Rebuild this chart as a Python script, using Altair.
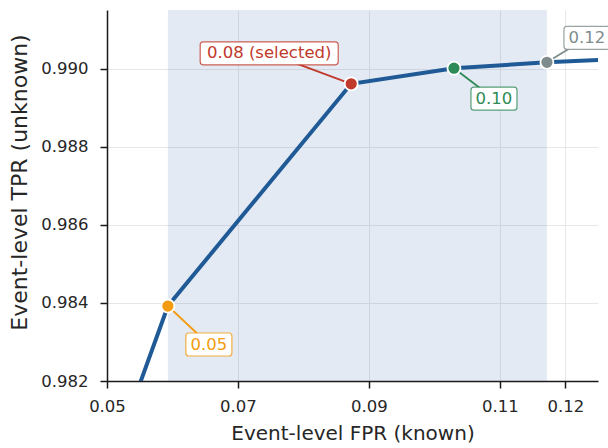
import altair as alt
import pandas as pd

# ---- data ----
thresholds = [0.04, 0.05, 0.08, 0.10, 0.12, 0.14]
fpr_known = [0.0500, 0.0593, 0.0873, 0.1030, 0.1172, 0.1300]
tpr_unknown = [0.97960, 0.98392, 0.98961, 0.99001, 0.99016, 0.99026]

marker_thresholds = [0.05, 0.08, 0.10, 0.12]
marker_labels = ["0.05", "0.08 (selected)", "0.10", "0.12"]
marker_colors = ["#f39c12", "#c0392b", "#2e8b57", "#7f8c8d"]

span_start = [0.0593]
span_end = [0.1172]

x_ticks = [0.05, 0.07, 0.09, 0.11, 0.12]
y_ticks = [0.982, 0.984, 0.986, 0.988, 0.990]

# ---- label placement (pixels, style only) ----
label_dx = [41, -82, 40, 40]
label_dy = [38.5, -30.5, 30.5, -24.5]
label_w = [46, 138, 46, 46]
label_h = 23

FONT = "DejaVu Sans"
LINE_COLOR = "#1f5a96"

curve = pd.DataFrame({"thr": thresholds, "fpr": fpr_known, "tpr": tpr_unknown})
lookup = dict(zip(thresholds, zip(fpr_known, tpr_unknown)))
markers = pd.DataFrame({
    "thr": marker_thresholds,
    "label": marker_labels,
    "color": marker_colors,
    "fpr": [lookup[t][0] for t in marker_thresholds],
    "tpr": [lookup[t][1] for t in marker_thresholds],
})
span = pd.DataFrame({"x1": span_start, "x2": span_end})

xscale = alt.Scale(domain=[0.05, 0.125], nice=False, zero=False)
yscale = alt.Scale(domain=[0.982, 0.9915], nice=False, zero=False)

xaxis = alt.Axis(values=x_ticks, format=".2f", title="Event-level FPR (known)",
                 labelFontSize=16.5, titleFontSize=20, tickSize=7, labelPadding=10,
                 titlePadding=9, grid=True, labelFlush=False)
yaxis = alt.Axis(values=y_ticks, format=".3f", title="Event-level TPR (unknown)",
                 labelFontSize=16.5, titleFontSize=22, tickSize=7, labelPadding=12,
                 titlePadding=9, grid=True, labelFlush=False, titleY=172)

shade = alt.Chart(span).mark_rect(color="#4c72b0", opacity=0.15).encode(
    x=alt.X("x1:Q", scale=xscale, axis=xaxis),
    x2="x2:Q",
)

line = alt.Chart(curve).mark_line(clip=True, strokeWidth=4, color=LINE_COLOR).encode(
    x=alt.X("fpr:Q", scale=xscale, axis=xaxis),
    y=alt.Y("tpr:Q", scale=yscale, axis=yaxis),
)

layers = [shade, line]

# connectors
for i, t in enumerate(marker_thresholds):
    d = markers[markers.thr == t]
    layers.append(
        alt.Chart(d).mark_rule(color=marker_colors[i], strokeWidth=1.8,
                               x2Offset=label_dx[i], y2Offset=label_dy[i]).encode(
            x="fpr:Q", y="tpr:Q", x2="fpr:Q", y2="tpr:Q"
        )
    )

# points
layers.append(
    alt.Chart(markers).mark_point(filled=True, size=170, stroke="white",
                                  strokeWidth=1.8, opacity=1).encode(
        x="fpr:Q", y="tpr:Q",
        fill=alt.Fill("color:N", scale=None),
    )
)

# label boxes + text
for i, t in enumerate(marker_thresholds):
    d = markers[markers.thr == t]
    w = label_w[i]
    layers.append(
        alt.Chart(d).mark_rect(fill="white", stroke=marker_colors[i], strokeOpacity=0.8,
                               strokeWidth=1.2, cornerRadius=3,
                               xOffset=label_dx[i] - w / 2, x2Offset=label_dx[i] + w / 2,
                               yOffset=label_dy[i] - label_h / 2,
                               y2Offset=label_dy[i] + label_h / 2).encode(
            x="fpr:Q", x2="fpr:Q", y="tpr:Q", y2="tpr:Q"
        )
    )
    layers.append(
        alt.Chart(d).mark_text(font=FONT, fontSize=16.5, color=marker_colors[i],
                               dx=label_dx[i], dy=label_dy[i], baseline="middle",
                               align="center").encode(
            x="fpr:Q", y="tpr:Q", text="label:N"
        )
    )

chart = alt.layer(*layers).properties(
    width=491, height=371,
    autosize=alt.AutoSizeParams(type="none"),
    padding={"left": 107, "top": 10, "right": 10, "bottom": 67},
).configure_view(stroke=None).configure_axis(
    labelFont=FONT, titleFont=FONT, labelColor="#262626", titleColor="#262626",
    titleFontWeight="normal", domainColor="#1a1a1a", domainWidth=1.5,
    tickColor="#1a1a1a", tickWidth=1.5, gridColor="#e4e4e4", gridWidth=0.9,
)

chart.save("out.html", embed_options={"renderer": "svg", "actions": False})
